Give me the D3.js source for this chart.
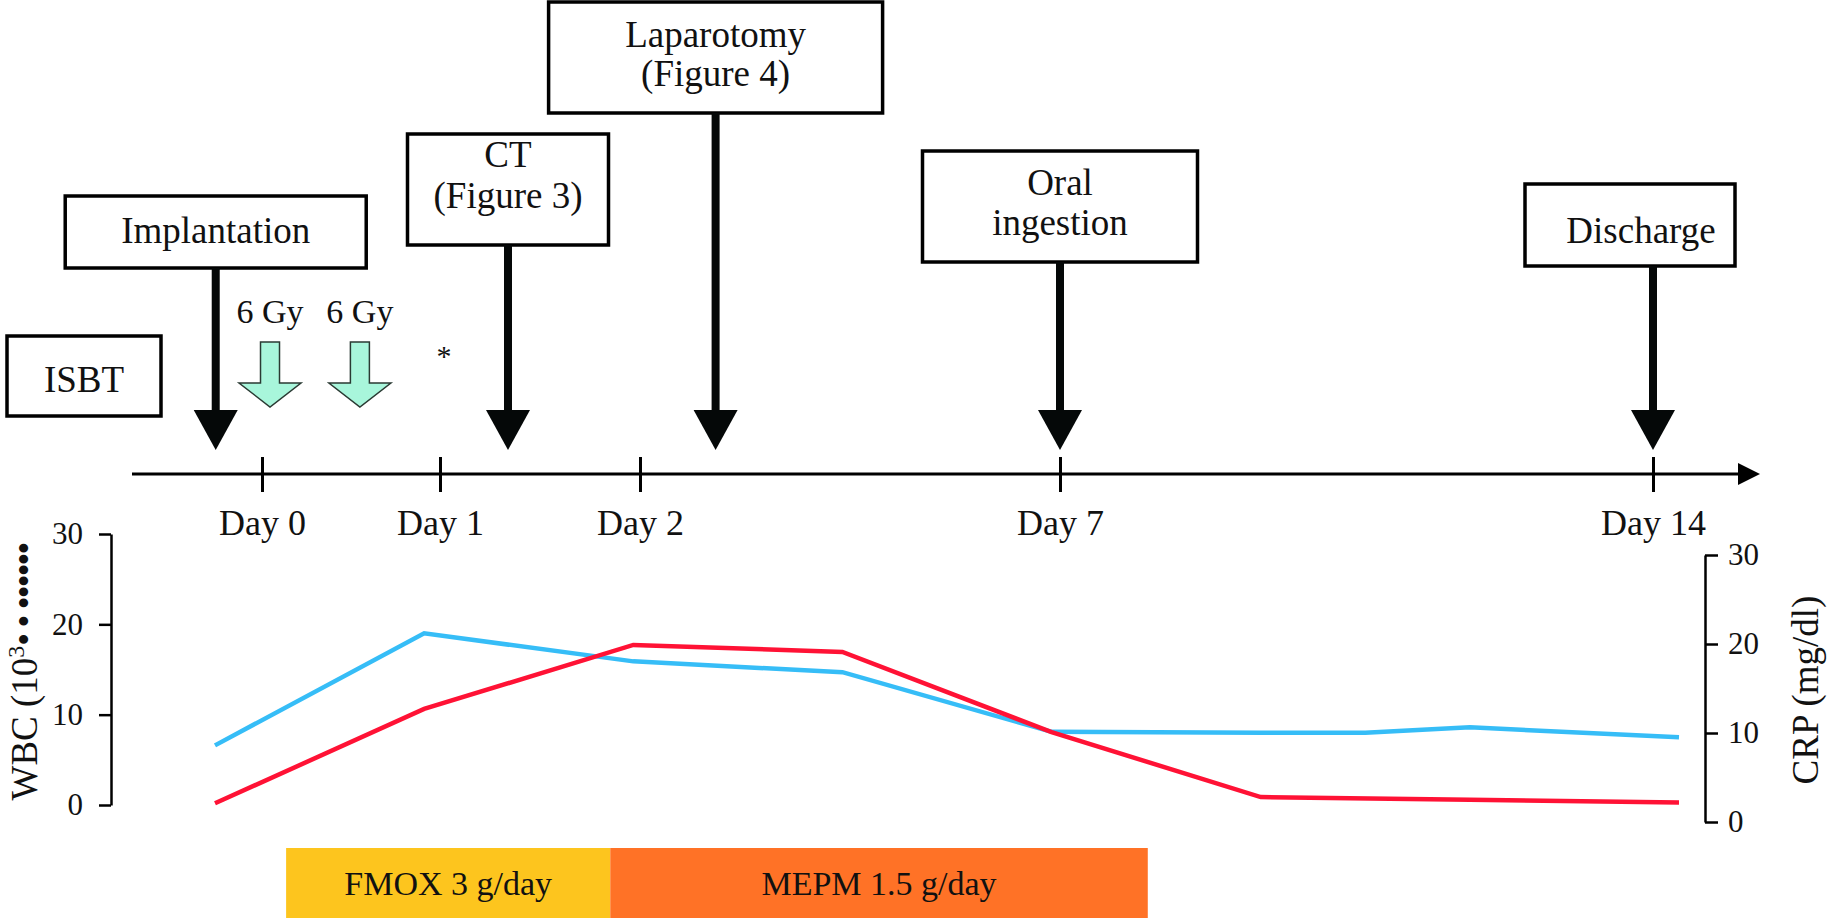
<!DOCTYPE html>
<html>
<head>
<meta charset="utf-8">
<script src="https://cdn.jsdelivr.net/npm/d3@7"></script>
<style>
  body { margin: 0; background: #fff; }
  text { font-family: "Liberation Serif", "DejaVu Serif", serif; fill: #111; }
</style>
</head>
<body>
<div id="chart-area"></div>
<script>
const W = 1827, H = 918

// timeline
const dayTicks = [0, 1, 2, 7, 14]
const dayTickLabels = ["Day 0", "Day 1", "Day 2", "Day 7", "Day 14"]
const dayPixels = [262, 440, 640, 1060, 1653]   // the axis is broken, so it is piecewise

// events shown as boxes with arrows
const eventNames = ["ISBT", "Implantation", "CT", "Laparotomy", "Oral ingestion", "Discharge"]
const eventLines = [["ISBT"], ["Implantation"], ["CT", "(Figure 3)"], ["Laparotomy", "(Figure 4)"], ["Oral", "ingestion"], ["Discharge"]]
const eventDays = [-1.0, -0.26, 1.34, 2.9, 7, 14]
const eventHasArrow = [false, true, true, true, true, true]

// radiation fractions
const doseLabels = ["6 Gy", "6 Gy"]
const doseDays = [0.045, 0.55]
const starDay = 1.02

// lab values
const wbcPos = [0, 1, 2, 3, 4, 5, 5.5, 6, 7]
const wbcVal = [6.6, 19.0, 15.9, 14.7, 8.1, 8.0, 8.0, 8.6, 7.5]
const crpPos = [0, 1, 2, 3, 4, 5, 6, 7]
const crpVal = [2.1, 12.7, 19.9, 19.1, 10.1, 2.8, 2.5, 2.2]
const yTicks = [0, 10, 20, 30]

// antibiotics
const drugLabels = ["FMOX 3 g/day", "MEPM 1.5 g/day"]
const drugStart = [0.34, 1.89]
const drugEnd = [1.89, 4.46]
const drugColors = ["#fdc51e", "#ff7226"]

// box geometry (layout only); dx shifts the box, tdx the text, from the arrow
const boxLayout = {
  "ISBT":           { w: 154, top: 336, h: 80, dx: 0, tdx: 0, base: [56] },
  "Implantation":   { w: 301, top: 196, h: 72, dx: 0, tdx: 0, base: [47] },
  "CT":             { w: 201, top: 134, h: 111, dx: 0, tdx: 0, base: [33, 74] },
  "Laparotomy":     { w: 334, top: 2,   h: 111, dx: 0, tdx: 0, base: [45, 84] },
  "Oral ingestion": { w: 275, top: 151, h: 111, dx: 0, tdx: 0, base: [44, 84] },
  "Discharge":      { w: 210, top: 184, h: 82, dx: -23, tdx: -12, base: [59] }
}

const AXIS_Y = 474
const HEAD_TOP = 410, HEAD_TIP = 450

const svg = d3.select("#chart-area").append("svg")
  .attr("width", W)
  .attr("height", H)

const tx = d3.scaleLinear()
  .domain(dayTicks)
  .range(dayPixels)

// piecewise scale extrapolates from the first segment before day 0
const ex = d => {
  if (d < 0) return dayPixels[0] + d * (dayPixels[1] - dayPixels[0])
  return tx(d)
}

// ---- timeline axis
svg.append("line")
  .attr("x1", 132).attr("x2", 1745)
  .attr("y1", AXIS_Y).attr("y2", AXIS_Y)
  .attr("stroke", "#000").attr("stroke-width", 3)

svg.append("path")
  .attr("d", `M1738,${AXIS_Y - 11} L1760,${AXIS_Y} L1738,${AXIS_Y + 11} Z`)
  .attr("fill", "#000")

const tAxis = svg.append("g")
  .attr("transform", `translate(0, ${AXIS_Y})`)
  .call(d3.axisBottom(tx).tickValues(dayTicks).tickFormat((d, i) => dayTickLabels[i]))

tAxis.select(".domain").remove()
tAxis.selectAll(".tick line")
  .attr("y1", -17).attr("y2", 18)
  .attr("stroke", "#000").attr("stroke-width", 3)
tAxis.selectAll(".tick text")
  .attr("y", 61).attr("dy", 0)
  .attr("font-size", 36)
  .attr("font-family", null)
  .attr("fill", "#111")

// ---- event boxes
eventNames.forEach((name, i) => {
  const L = boxLayout[name]
  const cx = ex(eventDays[i])
  const g = svg.append("g")
  g.append("rect")
    .attr("x", cx + L.dx - L.w / 2).attr("y", L.top)
    .attr("width", L.w).attr("height", L.h)
    .attr("fill", "#fff").attr("stroke", "#000").attr("stroke-width", 3.5)
  eventLines[i].forEach((t, j) => {
    g.append("text")
      .attr("x", cx + L.tdx).attr("y", L.top + L.base[j])
      .attr("text-anchor", "middle")
      .attr("font-size", 37)
      .text(t)
  })
  if (eventHasArrow[i]) {
    g.append("line")
      .attr("x1", cx).attr("x2", cx)
      .attr("y1", L.top + L.h).attr("y2", HEAD_TOP + 2)
      .attr("stroke", "#050808").attr("stroke-width", 8)
    g.append("path")
      .attr("d", `M${cx - 22},${HEAD_TOP} L${cx + 22},${HEAD_TOP} L${cx},${HEAD_TIP} Z`)
      .attr("fill", "#050808")
  }
})

// ---- dose arrows
doseDays.forEach((d, i) => {
  const cx = ex(d)
  svg.append("text")
    .attr("x", cx).attr("y", 323)
    .attr("text-anchor", "middle")
    .attr("font-size", 34)
    .text(doseLabels[i])
  svg.append("path")
    .attr("d", `M${cx - 9.5},342 L${cx + 9.5},342 L${cx + 9.5},383 L${cx + 31},383 L${cx},407 L${cx - 31},383 L${cx - 9.5},383 Z`)
    .attr("fill", "#a8f6db").attr("stroke", "#2a3a33").attr("stroke-width", 1.5)
})

svg.append("text")
  .attr("x", ex(starDay)).attr("y", 366)
  .attr("text-anchor", "middle")
  .attr("font-size", 30)
  .text("*")

// ---- lab chart
const sx = d3.scaleLinear().domain([0, 7]).range([215, 1679])
const yL = d3.scaleLinear().domain([0, 30]).range([805, 534])
const yR = d3.scaleLinear().domain([0, 30]).range([822, 555])

const leftAxis = svg.append("g")
  .attr("transform", "translate(111, 0)")
  .call(d3.axisLeft(yL).tickValues(yTicks).tickSize(12).tickSizeOuter(0).tickPadding(16))
const rightAxis = svg.append("g")
  .attr("transform", "translate(1705, 0)")
  .call(d3.axisRight(yR).tickValues(yTicks).tickSize(13).tickSizeOuter(0).tickPadding(10))

;[leftAxis, rightAxis].forEach(a => {
  a.selectAll("path, line").attr("stroke", "#000").attr("stroke-width", 2.5)
  a.selectAll("text")
    .attr("font-size", 31)
    .attr("font-family", null)
    .attr("fill", "#111")
})

const wbcLine = d3.line().x(d => sx(d[0])).y(d => yL(d[1]))
const crpLine = d3.line().x(d => sx(d[0])).y(d => yR(d[1]))

svg.append("path")
  .datum(d3.zip(wbcPos, wbcVal))
  .attr("d", wbcLine)
  .attr("fill", "none").attr("stroke", "#36bdf7").attr("stroke-width", 4.5)

svg.append("path")
  .datum(d3.zip(crpPos, crpVal))
  .attr("d", crpLine)
  .attr("fill", "none").attr("stroke", "#ff1235").attr("stroke-width", 4.5)

// axis titles
const wbcTitle = svg.append("text")
  .attr("transform", "translate(37, 672) rotate(-90)")
  .attr("text-anchor", "middle")
  .attr("font-size", 37)
wbcTitle.append("tspan").text("WBC (10")
wbcTitle.append("tspan").attr("font-size", 24).attr("dy", -13).text("3")
wbcTitle.append("tspan").attr("dy", 13).attr("letter-spacing", -2).text("• • ••••••")

svg.append("text")
  .attr("transform", "translate(1818, 690) rotate(-90)")
  .attr("text-anchor", "middle")
  .attr("font-size", 37)
  .text("CRP (mg/dl)")

// ---- antibiotic bars
drugLabels.forEach((t, i) => {
  const x0 = sx(drugStart[i]), x1 = sx(drugEnd[i])
  svg.append("rect")
    .attr("x", x0).attr("y", 848)
    .attr("width", x1 - x0).attr("height", 70)
    .attr("fill", drugColors[i])
  svg.append("text")
    .attr("x", (x0 + x1) / 2).attr("y", 895)
    .attr("text-anchor", "middle")
    .attr("font-size", 34)
    .text(t)
})
</script>
</body>
</html>
